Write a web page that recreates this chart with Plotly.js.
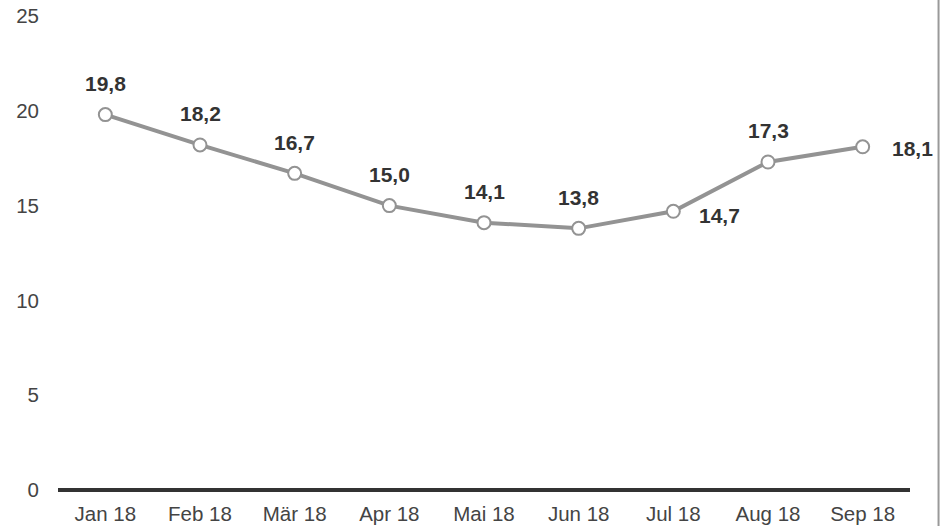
<!DOCTYPE html>
<html><head><meta charset="utf-8">
<script src="https://cdn.plot.ly/plotly-3.0.1.min.js"></script>
<style>html,body{margin:0;padding:0;background:#fff}#chart{width:940px;height:526px}</style>
</head><body><div id="chart"></div>
<script>
const categories = ["Jan 18","Feb 18","Mär 18","Apr 18","Mai 18","Jun 18","Jul 18","Aug 18","Sep 18"];
const values = [19.8, 18.2, 16.7, 15.0, 14.1, 13.8, 14.7, 17.3, 18.1];
const yTicks = [0, 5, 10, 15, 20, 25];

const fmt = v => v.toFixed(1).replace('.', ',');
const annotations = categories.map((c, i) => {
  let xs = 0, ys = 31;
  if (c === "Jul 18") { xs = 46; ys = -4; }
  if (c === "Sep 18") { xs = 50; ys = -2; }
  return {x: c, y: values[i], text: fmt(values[i]), showarrow: false, xshift: xs, yshift: ys,
    font: {family: "Liberation Sans, Arial, sans-serif", size: 21, color: "#333", weight: "bold"}};
});

Plotly.newPlot('chart', [{
  x: categories, y: values, type: 'scatter', mode: 'lines+markers',
  line: {color: '#939393', width: 4},
  marker: {size: 13, color: '#fff', line: {color: '#939393', width: 2}},
  hoverinfo: 'none'
}], {
  width: 940, height: 526,
  margin: {l: 58, r: 30, t: 16, b: 36},
  paper_bgcolor: '#fff', plot_bgcolor: '#fff',
  showlegend: false,
  font: {family: "Liberation Sans, Arial, sans-serif", size: 20.5, color: "#444"},
  xaxis: {type: 'category', range: [-0.5, 8.5], showgrid: false, zeroline: false, showline: false,
    ticks: '', ticklabelstandoff: 9, tickfont: {size: 20.5, color: '#444'}},
  yaxis: {range: [0, 25], tickvals: yTicks, showgrid: false, zeroline: true, zerolinecolor: '#333', zerolinewidth: 4,
    showline: false, ticks: '', ticklabelstandoff: 18, tickfont: {size: 20.5, color: '#444'}},
  annotations: annotations,
  shapes: [{type: 'line', xref: 'paper', yref: 'paper', x0: 1.0335, x1: 1.0335, y0: -0.08, y1: 1.04,
    line: {color: '#999', width: 2}}]
}, {displayModeBar: false, staticPlot: true});
</script></body></html>
